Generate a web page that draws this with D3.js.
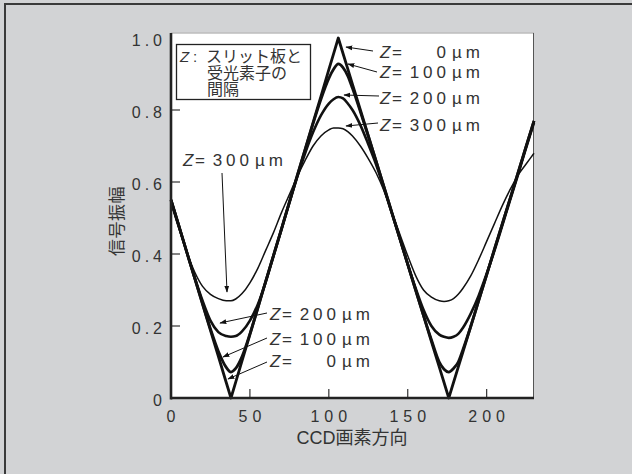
<!DOCTYPE html>
<html><head><meta charset="utf-8">
<script src="https://cdn.jsdelivr.net/npm/d3@7"></script>
<style>
html,body{margin:0;padding:0;background:#d2d3d5;overflow:hidden;}
svg{display:block;}
text{font-family:"Liberation Sans","Noto Sans CJK JP",Arial,sans-serif;fill:#333;}
</style></head><body>
<svg id="c" width="632" height="474"></svg>
<script>
// ---- data ----
const xPos = [0,5,10,15,20,25,30,35,38,41,45,50,55,60,65,70,75,80,85,90,95,100,103,106,109,112,115,120,125,130,135,140,145,150,155,160,165,170,173,176,179,182,185,190,195,200,205,210,215,220,225,230];
const z0   = [0.55,0.478,0.405,0.333,0.26,0.188,0.116,0.043,0.0,0.044,0.103,0.176,0.25,0.324,0.397,0.47,0.544,0.618,0.691,0.765,0.838,0.912,0.956,1.0,0.957,0.914,0.871,0.8,0.729,0.657,0.586,0.514,0.443,0.371,0.3,0.229,0.157,0.086,0.043,0.0,0.043,0.086,0.128,0.2,0.271,0.342,0.414,0.485,0.556,0.627,0.699,0.77];
const z100 = [0.55,0.478,0.405,0.333,0.262,0.192,0.13,0.085,0.072,0.082,0.115,0.178,0.25,0.324,0.397,0.47,0.544,0.617,0.69,0.762,0.83,0.888,0.913,0.928,0.918,0.895,0.86,0.795,0.727,0.657,0.586,0.514,0.443,0.371,0.3,0.229,0.162,0.1,0.08,0.072,0.082,0.1,0.135,0.2,0.271,0.342,0.414,0.485,0.556,0.627,0.699,0.77];
const z200 = [0.55,0.478,0.405,0.335,0.27,0.215,0.183,0.172,0.17,0.172,0.185,0.215,0.26,0.322,0.395,0.468,0.542,0.614,0.68,0.738,0.785,0.818,0.83,0.836,0.832,0.818,0.8,0.758,0.705,0.648,0.582,0.512,0.443,0.372,0.305,0.245,0.2,0.176,0.17,0.167,0.17,0.178,0.195,0.235,0.285,0.345,0.41,0.48,0.552,0.622,0.695,0.765];
const z300 = [0.54,0.47,0.405,0.35,0.31,0.288,0.276,0.27,0.27,0.275,0.29,0.32,0.36,0.41,0.46,0.515,0.565,0.615,0.66,0.7,0.728,0.745,0.75,0.75,0.748,0.74,0.728,0.7,0.665,0.625,0.575,0.515,0.455,0.395,0.34,0.3,0.28,0.27,0.268,0.27,0.276,0.288,0.305,0.34,0.385,0.435,0.485,0.535,0.58,0.62,0.65,0.68];
const xTicks = [0,50,100,150,200];
const yTicks = [0,0.2,0.4,0.6,0.8,1.0];
const yTickLabels = ["0","0.2","0.4","0.6","0.8","1.0"];
const seriesNames = ["0","100","200","300"];
const boxLines = ["スリット板と","受光素子の","間隔"];
const xTitle = "CCD画素方向";
const yTitle = "信号振幅";

// ---- drawing ----
const svg = d3.select("#c");
const X = d3.scaleLinear().domain([0,230]).range([171,534]);
const Y = d3.scaleLinear().domain([0,1]).range([398,38]);
const plotTop = 33;

// outer frame (only top and left edges fall inside the picture)
svg.append("rect").attr("x",0).attr("y",0).attr("width",632).attr("height",474).attr("fill","#d2d3d5");
svg.append("path").attr("d","M5,480 L5,4 L640,4").attr("fill","none")
  .attr("stroke","#3a3a3a").attr("stroke-width",2);

// plot area
svg.append("rect").attr("x",X(0)).attr("y",plotTop).attr("width",X(230)-X(0)).attr("height",Y(0)-plotTop)
  .attr("fill","#fff");
svg.append("line").attr("x1",X(0)).attr("x2",X(230)).attr("y1",plotTop).attr("y2",plotTop)
  .attr("stroke","#bdbdbd").attr("stroke-width",1.5);
svg.append("line").attr("x1",X(230)-0.5).attr("x2",X(230)-0.5).attr("y1",plotTop).attr("y2",Y(0))
  .attr("stroke","#555").attr("stroke-width",1);

// ticks (inward)
svg.selectAll(".xt").data(xTicks.filter(d=>d>0)).enter().append("line")
  .attr("x1",d=>X(d)).attr("x2",d=>X(d)).attr("y1",Y(0)).attr("y2",Y(0)-9)
  .attr("stroke","#333").attr("stroke-width",1.2);
svg.selectAll(".yt").data(yTicks.filter(d=>d>0&&d<1)).enter().append("line")
  .attr("x1",X(0)).attr("x2",X(0)+9).attr("y1",d=>Y(d)).attr("y2",d=>Y(d))
  .attr("stroke","#333").attr("stroke-width",1.2);

// tick labels
svg.selectAll(".xl").data(xTicks).enter().append("text")
  .attr("x",d=>X(d)+2.5).attr("y",Y(0)+24).attr("text-anchor","middle")
  .attr("font-size",16).attr("letter-spacing",5).text(d=>d);
svg.selectAll(".yl").data(yTicks).enter().append("text")
  .attr("x",166).attr("y",d=>Y(d)+8).attr("text-anchor","end")
  .attr("font-size",16).attr("letter-spacing",4).text((d,i)=>yTickLabels[i]);

// axis titles
svg.append("text").attr("x",352).attr("y",444).attr("text-anchor","middle")
  .attr("font-size",18).text(xTitle);
svg.append("text").attr("transform","translate(123,221) rotate(-90)").attr("text-anchor","middle")
  .attr("font-size",17).attr("letter-spacing",0.5).text(yTitle);

// curves
const series = [z0,z100,z200,z300];
const widths = [2.8,2.8,2.6,1.5];
series.forEach((s,i)=>{
  const line = d3.line().x((d,j)=>X(xPos[j])).y(d=>Y(d))
    .curve(i===0?d3.curveLinear:d3.curveMonotoneX);
  svg.append("path").datum(s).attr("d",line).attr("fill","none")
    .attr("stroke","#111").attr("stroke-width",widths[i]).attr("stroke-linejoin","round");
});

// axes lines (thick)
svg.append("line").attr("x1",X(0)).attr("x2",X(0)).attr("y1",plotTop).attr("y2",Y(0)+1.5)
  .attr("stroke","#222").attr("stroke-width",2.6);
svg.append("line").attr("x1",X(0)).attr("x2",X(230)).attr("y1",Y(0)).attr("y2",Y(0))
  .attr("stroke","#222").attr("stroke-width",2.6);

// arrow marker
svg.append("defs").append("marker").attr("id","ah").attr("viewBox","0 0 10 10")
  .attr("refX",9).attr("refY",5).attr("markerWidth",7).attr("markerHeight",7)
  .attr("orient","auto").attr("markerUnits","userSpaceOnUse")
  .append("path").attr("d","M0,1.5 L10,5 L0,8.5 Z").attr("fill","#111");

// labels with arrows
function zLabel(x, y, num){
  const g = svg.append("g");
  g.append("text").attr("x",x).attr("y",y).attr("font-size",17)
    .append("tspan").attr("font-style","italic").text("Z");
  g.append("text").attr("x",x+12).attr("y",y).attr("font-size",17).text("=");
  g.append("text").attr("x",x+70).attr("y",y).attr("font-size",17).attr("letter-spacing",4)
    .attr("text-anchor","end").text(num);
  g.append("text").attr("x",x+72).attr("y",y).attr("font-size",17).attr("letter-spacing",4).text("µm");
}
function arrow(x1,y1,x2,y2){
  svg.append("line").attr("x1",x1).attr("y1",y1).attr("x2",x2).attr("y2",y2)
    .attr("stroke","#111").attr("stroke-width",1).attr("marker-end","url(#ah)");
}
const rightLabelY = [58,78,104,131];
const rightArrow = [[373,51,346,47],[377,72,348,64],[379,96,344,95],[378,123,346,126]];
seriesNames.forEach((n,i)=>{
  zLabel(380,rightLabelY[i],n);
  arrow(...rightArrow[i]);
});
const lowLabelY = [367,345,320];
const lowArrow = [[267,362,228,379],[267,338,223,357],[267,313,220,323]];
seriesNames.slice(0,3).forEach((n,i)=>{
  zLabel(270,lowLabelY[i],n);
  arrow(...lowArrow[i]);
});
zLabel(183,166,seriesNames[3]);
arrow(222,173,227,292);

// box annotation
svg.append("rect").attr("x",176.5).attr("y",44.5).attr("width",134).attr("height",55)
  .attr("fill","#fff").attr("stroke","#222").attr("stroke-width",1.3);
const bt = svg.append("text").attr("x",180).attr("y",62).attr("font-size",15);
bt.append("tspan").attr("font-style","italic").text("Z");
bt.append("tspan").attr("x",193).text(":");
svg.append("text").attr("x",206).attr("y",62).attr("font-size",16).text(boxLines[0]);
svg.append("text").attr("x",207).attr("y",79).attr("font-size",16).text(boxLines[1]);
svg.append("text").attr("x",207).attr("y",95).attr("font-size",16).text(boxLines[2]);
</script>
</body></html>
